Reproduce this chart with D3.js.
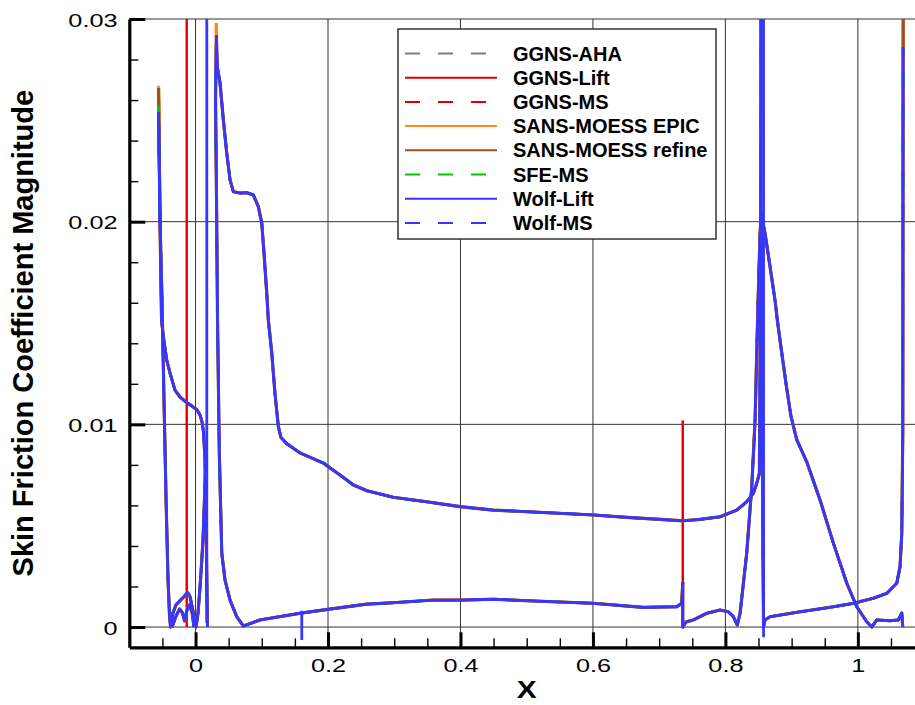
<!DOCTYPE html>
<html lang="en">
<head>
<meta charset="UTF-8">
<title>Skin Friction Coefficient Magnitude</title>
<script src="https://d3js.org/d3.v7.min.js"></script>
<style>
  body { margin: 0; background: #fff; }
  svg text { font-family: "Liberation Sans", Arial, Helvetica, sans-serif; fill: #000; }
</style>
</head>
<body>
<svg id="chart" width="915" height="705"></svg>
<script>
// solvers, legend order (also the draw order, so Wolf ends up on top)
var seriesNames = ["GGNS-AHA", "GGNS-Lift", "GGNS-MS", "SANS-MOESS EPIC",
                   "SANS-MOESS refine", "SFE-MS", "Wolf-Lift", "Wolf-MS"];
var seriesColors = ["#7f7f7f", "#e00000", "#e00000", "#ff8a1c",
                    "#9a5020", "#00c800", "#3636ff", "#3636ff"];
var seriesDashed = [true, false, true, false, false, true, false, true];

// leading edge peaks, the only place where the solvers split visibly
var slatPeakCf = [0.0262, 0.0264, 0.0264, 0.0267, 0.0266, 0.0257, 0.0254, 0.0254];
var mainPeakCf = [0.0286, 0.0288, 0.0288, 0.0298, 0.0287, 0.0290, 0.0292, 0.0292];

// surfaces shared by every solver (x, cf)
var slatUpperX  = [-0.0559, -0.0544, -0.0528, -0.0513, -0.0486, -0.0435, -0.0385, -0.0310, -0.0234,
                   -0.0143, -0.0053, 0.0023, 0.0068, 0.0098, 0.0121, 0.0143, 0.0159, 0.0174, 0.0181];
var slatUpperCf = [0.0254, 0.0221, 0.0181, 0.01515, 0.01432, 0.01317, 0.01253, 0.01169, 0.01135,
                   0.0111, 0.0109, 0.01071, 0.01046, 0.01012, 0.00962, 0.00824, 0.00528, 0.00133, 0.0];

var slatLowerX  = [-0.0559, -0.0536, -0.0506, -0.0476, -0.0445, -0.0415, -0.0393, -0.0377, -0.0340,
                   -0.0294, -0.0234, -0.0174, -0.0121, -0.0083, -0.0045, -0.0015, 0.0008, 0.0038,
                   0.0075, 0.0113, 0.0151];
var slatLowerCf = [0.0254, 0.0201, 0.0161, 0.0112, 0.0063, 0.0023, 0.0006, 0.0, 0.0007,
                   0.0011, 0.0013, 0.0015, 0.0017, 0.0015, 0.0009, 0.0003, 0.0, 0.0007,
                   0.0023, 0.0043, 0.0078];

var slatCoveX  = [-0.0355, -0.0294, -0.0242, -0.0196, -0.0166, -0.0128, -0.0091, -0.0053, -0.0023];
var slatCoveCf = [0.0, 0.00054, 0.00089, 0.00069, 0.0003, 0.00084, 0.00109, 0.00074, 0.0];

var mainUpperX  = [0.0314, 0.0329, 0.0370, 0.0420, 0.0471, 0.0521, 0.0571, 0.0672, 0.0773, 0.0873,
                   0.0948, 0.1000, 0.1034, 0.1075, 0.1099, 0.1151, 0.1200, 0.1250, 0.1290, 0.1377,
                   0.1578, 0.1930, 0.2005, 0.2182, 0.2383, 0.2585, 0.2987, 0.3491, 0.3994, 0.4496,
                   0.5001, 0.6006, 0.6511, 0.7014, 0.7365, 0.7617, 0.7919, 0.8171, 0.8322, 0.8422,
                   0.8473, 0.8513, 0.8531, 0.8538];
var mainUpperCf = [0.0292, 0.02763, 0.02684, 0.02502, 0.02339, 0.02206, 0.02148, 0.02141, 0.02143, 0.02132,
                   0.02074, 0.01993, 0.01845, 0.01648, 0.01515, 0.01352, 0.0115, 0.0099, 0.00935, 0.00905,
                   0.00859, 0.00809, 0.00791, 0.0075, 0.00701, 0.00673, 0.0064, 0.00618, 0.00594, 0.00577,
                   0.00569, 0.00553, 0.00541, 0.00531, 0.00524, 0.00531, 0.00544, 0.00577, 0.00618, 0.0066,
                   0.00709, 0.00758, 0.01613, 0.032];

var mainLowerX  = [0.0314, 0.0302, 0.0317, 0.0332, 0.0359, 0.0396, 0.0445, 0.0521, 0.0622, 0.0722,
                   0.0974, 0.1578, 0.1996, 0.2585, 0.2987, 0.3591, 0.3994, 0.4496, 0.5001, 0.6006,
                   0.6761, 0.7266, 0.7341, 0.7356];
var mainLowerCf = [0.0292, 0.0260, 0.02107, 0.01515, 0.00859, 0.00365, 0.00232, 0.00133, 0.00051, 0.00005,
                   0.00035, 0.00068, 0.00087, 0.00113, 0.0012, 0.00133, 0.00133, 0.00137, 0.0013, 0.00117,
                   0.00097, 0.001, 0.00117, 0.00222];

var mainCoveX  = [0.7356, 0.7356, 0.7406, 0.7516, 0.7719, 0.7919, 0.8045, 0.8120, 0.8180, 0.8222,
                  0.8322, 0.8398, 0.8448, 0.8473, 0.8498, 0.8523, 0.8538];
var mainCoveCf = [0.00222, 0.0, 0.00025, 0.00035, 0.00068, 0.00084, 0.00075, 0.00051, 0.0001, 0.00069,
                  0.00365, 0.00692, 0.01021, 0.01352, 0.01663, 0.01934, 0.0204];

var flapUpperX  = [0.8538, 0.8598, 0.8674, 0.8749, 0.8784, 0.8851, 0.8920, 0.8990, 0.9077, 0.9228,
                   0.9429, 0.9630, 0.9832, 0.9983, 1.0134, 1.0210, 1.0285, 1.0486, 1.0612, 1.0663, 1.0678];
var flapUpperCf = [0.0204, 0.01944, 0.01778, 0.01613, 0.01515, 0.01352, 0.0119, 0.0104, 0.00925, 0.00815,
                   0.00627, 0.00414, 0.00217, 0.001, 0.00026, 0.0, 0.00035, 0.00031, 0.00035, 0.00069, 0.0];

var flapLowerX  = [0.8538, 0.8553, 0.8568, 0.8576, 0.8598, 0.8674, 0.8825, 0.9127, 0.9630, 0.9932,
                   1.0234, 1.0436, 1.0587, 1.0637, 1.0663, 1.0678, 1.0683];
var flapLowerCf = [0.0204, 0.0112, 0.00331, 0.0, 0.00035, 0.00051, 0.00059, 0.00075, 0.001, 0.00117,
                   0.00142, 0.00166, 0.00216, 0.00298, 0.00464, 0.00957, 0.0286];

// single-solver spikes: which series, x, from cf, to cf
var spikeSeries = [1, 1, 1, 4, 6, 6, 6];
var spikeX      = [-0.0133, 0.7356, 1.0688, 1.0681, 0.0170, 0.1604, 0.8576];
var spikeFrom   = [0.0, 0.0004, 0.0286, 0.0286, 0.0002, 0.0008, -0.0005];
var spikeTo     = [0.032, 0.0102, 0.032, 0.032, 0.032, -0.00064, 0.032];

// axes
var xTicks = [0, 0.2, 0.4, 0.6, 0.8, 1];
var xTickLabels = ["0", "0.2", "0.4", "0.6", "0.8", "1"];
var yTicks = [0, 0.01, 0.02, 0.03];
var yTickLabels = ["0", "0.01", "0.02", "0.03"];

var svg = d3.select("#chart");

var x = d3.scaleLinear().domain([-0.1, 1.1]).range([129.3, 924.1]);
var y = d3.scaleLinear().domain([-0.001, 0.03]).range([647.3, 19]);

svg.append("defs").append("clipPath").attr("id", "plotclip")
  .append("rect")
  .attr("x", x(-0.1)).attr("y", y(0.03))
  .attr("width", x(1.1) - x(-0.1)).attr("height", y(-0.001) - y(0.03));

// grid
var grid = svg.append("g").attr("stroke", "#333").attr("stroke-width", 1);
grid.selectAll("line.gx").data(xTicks).join("line")
  .attr("class", "gx")
  .attr("x1", d => x(d)).attr("x2", d => x(d))
  .attr("y1", y(-0.001)).attr("y2", y(0.03));
grid.selectAll("line.gy").data(yTicks).join("line")
  .attr("class", "gy")
  .attr("x1", x(-0.1)).attr("x2", x(1.1))
  .attr("y1", d => y(d)).attr("y2", d => y(d));

// curves
var line = d3.line().x(d => x(d[0])).y(d => y(d[1]));

function surface(xs, cfs, peak) {
  return xs.map((v, k) => [v, (k === 0 && peak !== undefined) ? peak : cfs[k]]);
}

var curves = svg.append("g").attr("clip-path", "url(#plotclip)")
  .attr("fill", "none").attr("stroke-linejoin", "round");

seriesNames.forEach(function(name, i) {
  var segs = [
    surface(slatUpperX, slatUpperCf, slatPeakCf[i]),
    surface(slatLowerX, slatLowerCf, slatPeakCf[i]),
    surface(slatCoveX, slatCoveCf),
    surface(mainUpperX, mainUpperCf, mainPeakCf[i]),
    surface(mainLowerX, mainLowerCf, mainPeakCf[i]),
    surface(mainCoveX, mainCoveCf),
    surface(flapUpperX, flapUpperCf),
    surface(flapLowerX, flapLowerCf)
  ];
  spikeSeries.forEach(function(s, k) {
    if (s === i) segs.push([[spikeX[k], spikeFrom[k]], [spikeX[k], spikeTo[k]]]);
  });

  curves.append("g")
    .attr("stroke", seriesColors[i])
    .attr("stroke-width", name === "Wolf-Lift" ? 2.8 : (name.indexOf("SANS") === 0 ? 3.1 : 2.4))
    .attr("stroke-dasharray", seriesDashed[i] ? "15,18" : null)
    .selectAll("path").data(segs).join("path")
    .attr("d", line);
});

// axes, ticks point inward
var xMinor = d3.range(-0.05, 1.1, 0.05).filter(v => Math.abs(v * 5 - Math.round(v * 5)) > 1e-6);
var yMinor = d3.range(0.002, 0.03, 0.002).filter(v => Math.abs(v * 100 - Math.round(v * 100)) > 1e-6);

svg.append("g")
  .attr("transform", `translate(0,${y(-0.001)})`)
  .call(d3.axisBottom(x).tickValues(xMinor).tickSize(-9).tickFormat(""))
  .call(g => g.select(".domain").remove())
  .selectAll("line").attr("stroke", "#000").attr("stroke-width", 1.4);

svg.append("g")
  .attr("transform", `translate(${x(-0.1)},0)`)
  .call(d3.axisLeft(y).tickValues(yMinor).tickSize(-9).tickFormat(""))
  .call(g => g.select(".domain").remove())
  .selectAll("line").attr("stroke", "#000").attr("stroke-width", 1.4);

var xAxis = svg.append("g")
  .attr("transform", `translate(0,${y(-0.001)})`)
  .call(d3.axisBottom(x).tickValues(xTicks).tickSize(-15).tickSizeOuter(0).tickPadding(11)
    .tickFormat((d, i) => xTickLabels[i]));
xAxis.select(".domain").attr("stroke", "#000").attr("stroke-width", 3.2);
xAxis.selectAll(".tick line").attr("stroke", "#000").attr("stroke-width", 3);
xAxis.selectAll(".tick text")
  .attr("font-family", "Liberation Sans, Arial, sans-serif").attr("font-size", 19)
  .attr("y", 0).attr("dy", 0)
  .attr("transform", "translate(0,24.4) scale(1.33,1)");

var yAxis = svg.append("g")
  .attr("transform", `translate(${x(-0.1)},0)`)
  .call(d3.axisLeft(y).tickValues(yTicks).tickSize(-16).tickSizeOuter(0).tickPadding(9)
    .tickFormat((d, i) => yTickLabels[i]));
yAxis.select(".domain").attr("stroke", "#000").attr("stroke-width", 3.2);
yAxis.selectAll(".tick line").attr("stroke", "#000").attr("stroke-width", 3);
yAxis.selectAll(".tick text")
  .attr("font-family", "Liberation Sans, Arial, sans-serif").attr("font-size", 19)
  .attr("x", 0).attr("dy", 0)
  .attr("transform", "translate(-11.8,7) scale(1.33,1)");

// axis titles
svg.append("text")
  .attr("transform", `translate(${(x(-0.1) + x(1.1)) / 2},698.3) scale(1.3,1)`)
  .attr("text-anchor", "middle")
  .attr("font-size", 23).attr("font-weight", "bold")
  .text("X");

svg.append("text")
  .attr("transform", `translate(33,${(y(-0.001) + y(0.03)) / 2}) rotate(-90)`)
  .attr("text-anchor", "middle")
  .attr("font-size", 29).attr("font-weight", "bold")
  .text("Skin Friction Coefficient Magnitude");

// legend
var legend = svg.append("g").attr("transform", "translate(398,29)");
legend.append("rect")
  .attr("width", 318).attr("height", 210)
  .attr("fill", "#fff").attr("stroke", "#333").attr("stroke-width", 1.5);

var entry = legend.selectAll("g.entry").data(seriesNames).join("g")
  .attr("class", "entry")
  .attr("transform", (d, i) => `translate(0,${24.5 + i * 24.2})`);
entry.append("line")
  .attr("x1", 7).attr("x2", 99)
  .attr("stroke", (d, i) => seriesColors[i])
  .attr("stroke-width", 2)
  .attr("stroke-dasharray", (d, i) => seriesDashed[i] ? "15,18" : null);
entry.append("text")
  .attr("x", 115).attr("y", 7)
  .attr("font-size", 20).attr("font-weight", "bold")
  .text(d => d);
</script>
</body>
</html>
